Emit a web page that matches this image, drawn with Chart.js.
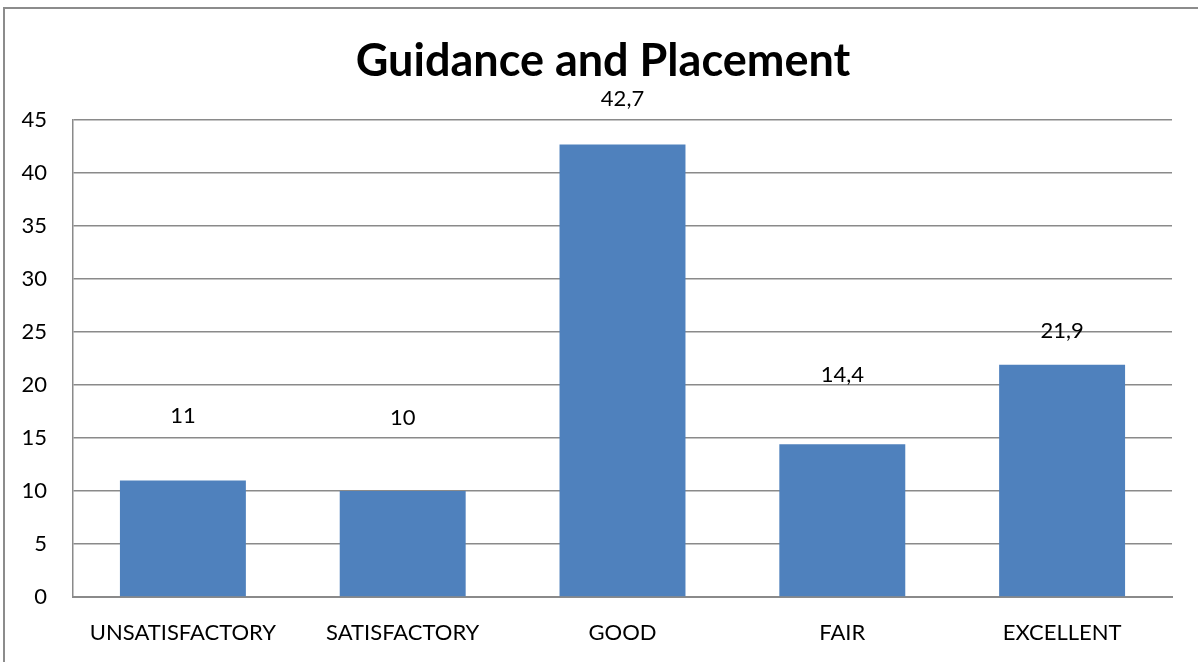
<!DOCTYPE html>
<html>
<head>
<meta charset="utf-8">
<script src="https://cdn.jsdelivr.net/npm/chart.js@4.4.0/dist/chart.umd.min.js"></script>
<style>
    html, body { margin: 0; padding: 0; background: #fff; }
    #wrap { position: relative; width: 1198px; height: 662px; }
</style>
</head>
<body>
<div id="wrap"><canvas id="guidanceChart" width="1198" height="662"></canvas></div>
<script>
const categories = ['UNSATISFACTORY', 'SATISFACTORY', 'GOOD', 'FAIR', 'EXCELLENT'];
const percentages = [11, 10, 42.7, 14.4, 21.9];
const yTicks = [0, 5, 10, 15, 20, 25, 30, 35, 40, 45];
const chartTitle = 'Guidance and Placement';

// how far above each bar its value label sits (px)
const labelLift = [64, 73, 45, 69, 34];

const FONT = 'Lato, "Open Sans", sans-serif';
const GRID = '#8a8a8a';

// frame around the chart (only top and left edges fall inside the canvas) + title
const framePlugin = {
    id: 'frame',
    beforeDraw(chart) {
        const c = chart.ctx;
        c.save();
        c.strokeStyle = '#8c8c8c';
        c.lineWidth = 2;
        c.beginPath();
        c.moveTo(4, chart.height);
        c.lineTo(4, 8);
        c.lineTo(chart.width, 8);
        c.stroke();

        c.font = 'bold 45px ' + FONT;
        c.fillStyle = '#000';
        c.textAlign = 'center';
        c.textBaseline = 'alphabetic';
        c.fillText(chartTitle, 603, 76);
        c.restore();
    }
};

// value labels above the bars, decimal comma
const valueLabels = {
    id: 'valueLabels',
    afterDatasetsDraw(chart) {
        const c = chart.ctx;
        const meta = chart.getDatasetMeta(0);
        c.save();
        c.font = '22px ' + FONT;
        c.fillStyle = '#000';
        c.textAlign = 'center';
        c.textBaseline = 'middle';
        meta.data.forEach((bar, i) => {
            const v = chart.data.datasets[0].data[i];
            c.fillText(String(v).replace('.', ','), bar.x, bar.y - labelLift[i]);
        });
        c.restore();
    }
};

new Chart(document.getElementById('guidanceChart'), {
    type: 'bar',
    data: {
        labels: categories,
        datasets: [{
            data: percentages,
            backgroundColor: '#4F81BD',
            borderWidth: 0,
            categoryPercentage: 1,
            barPercentage: 0.573
        }]
    },
    options: {
        responsive: false,
        animation: false,
        layout: { padding: { top: 120, right: 26, bottom: 18, left: 0 } },
        scales: {
            x: {
                afterFit(scale) { scale.height = 47; },
                grid: { display: false, drawTicks: false },
                border: { display: true, color: GRID, width: 2 },
                ticks: { color: '#000', font: { family: FONT, size: 22 }, padding: 23 }
            },
            y: {
                min: 0,
                max: 45,
                afterBuildTicks(scale) {
                    scale.ticks = yTicks.map(v => ({ value: v }));
                },
                afterFit(scale) { scale.width = 73; },
                grid: { color: GRID, lineWidth: 1.5, drawTicks: false },
                border: { display: true, color: GRID, width: 1.5 },
                ticks: { color: '#000', font: { family: FONT, size: 22 }, padding: 26 }
            }
        },
        plugins: {
            legend: { display: false },
            tooltip: { enabled: false },
            title: { display: false }
        }
    },
    plugins: [framePlugin, valueLabels]
});
</script>
</body>
</html>
